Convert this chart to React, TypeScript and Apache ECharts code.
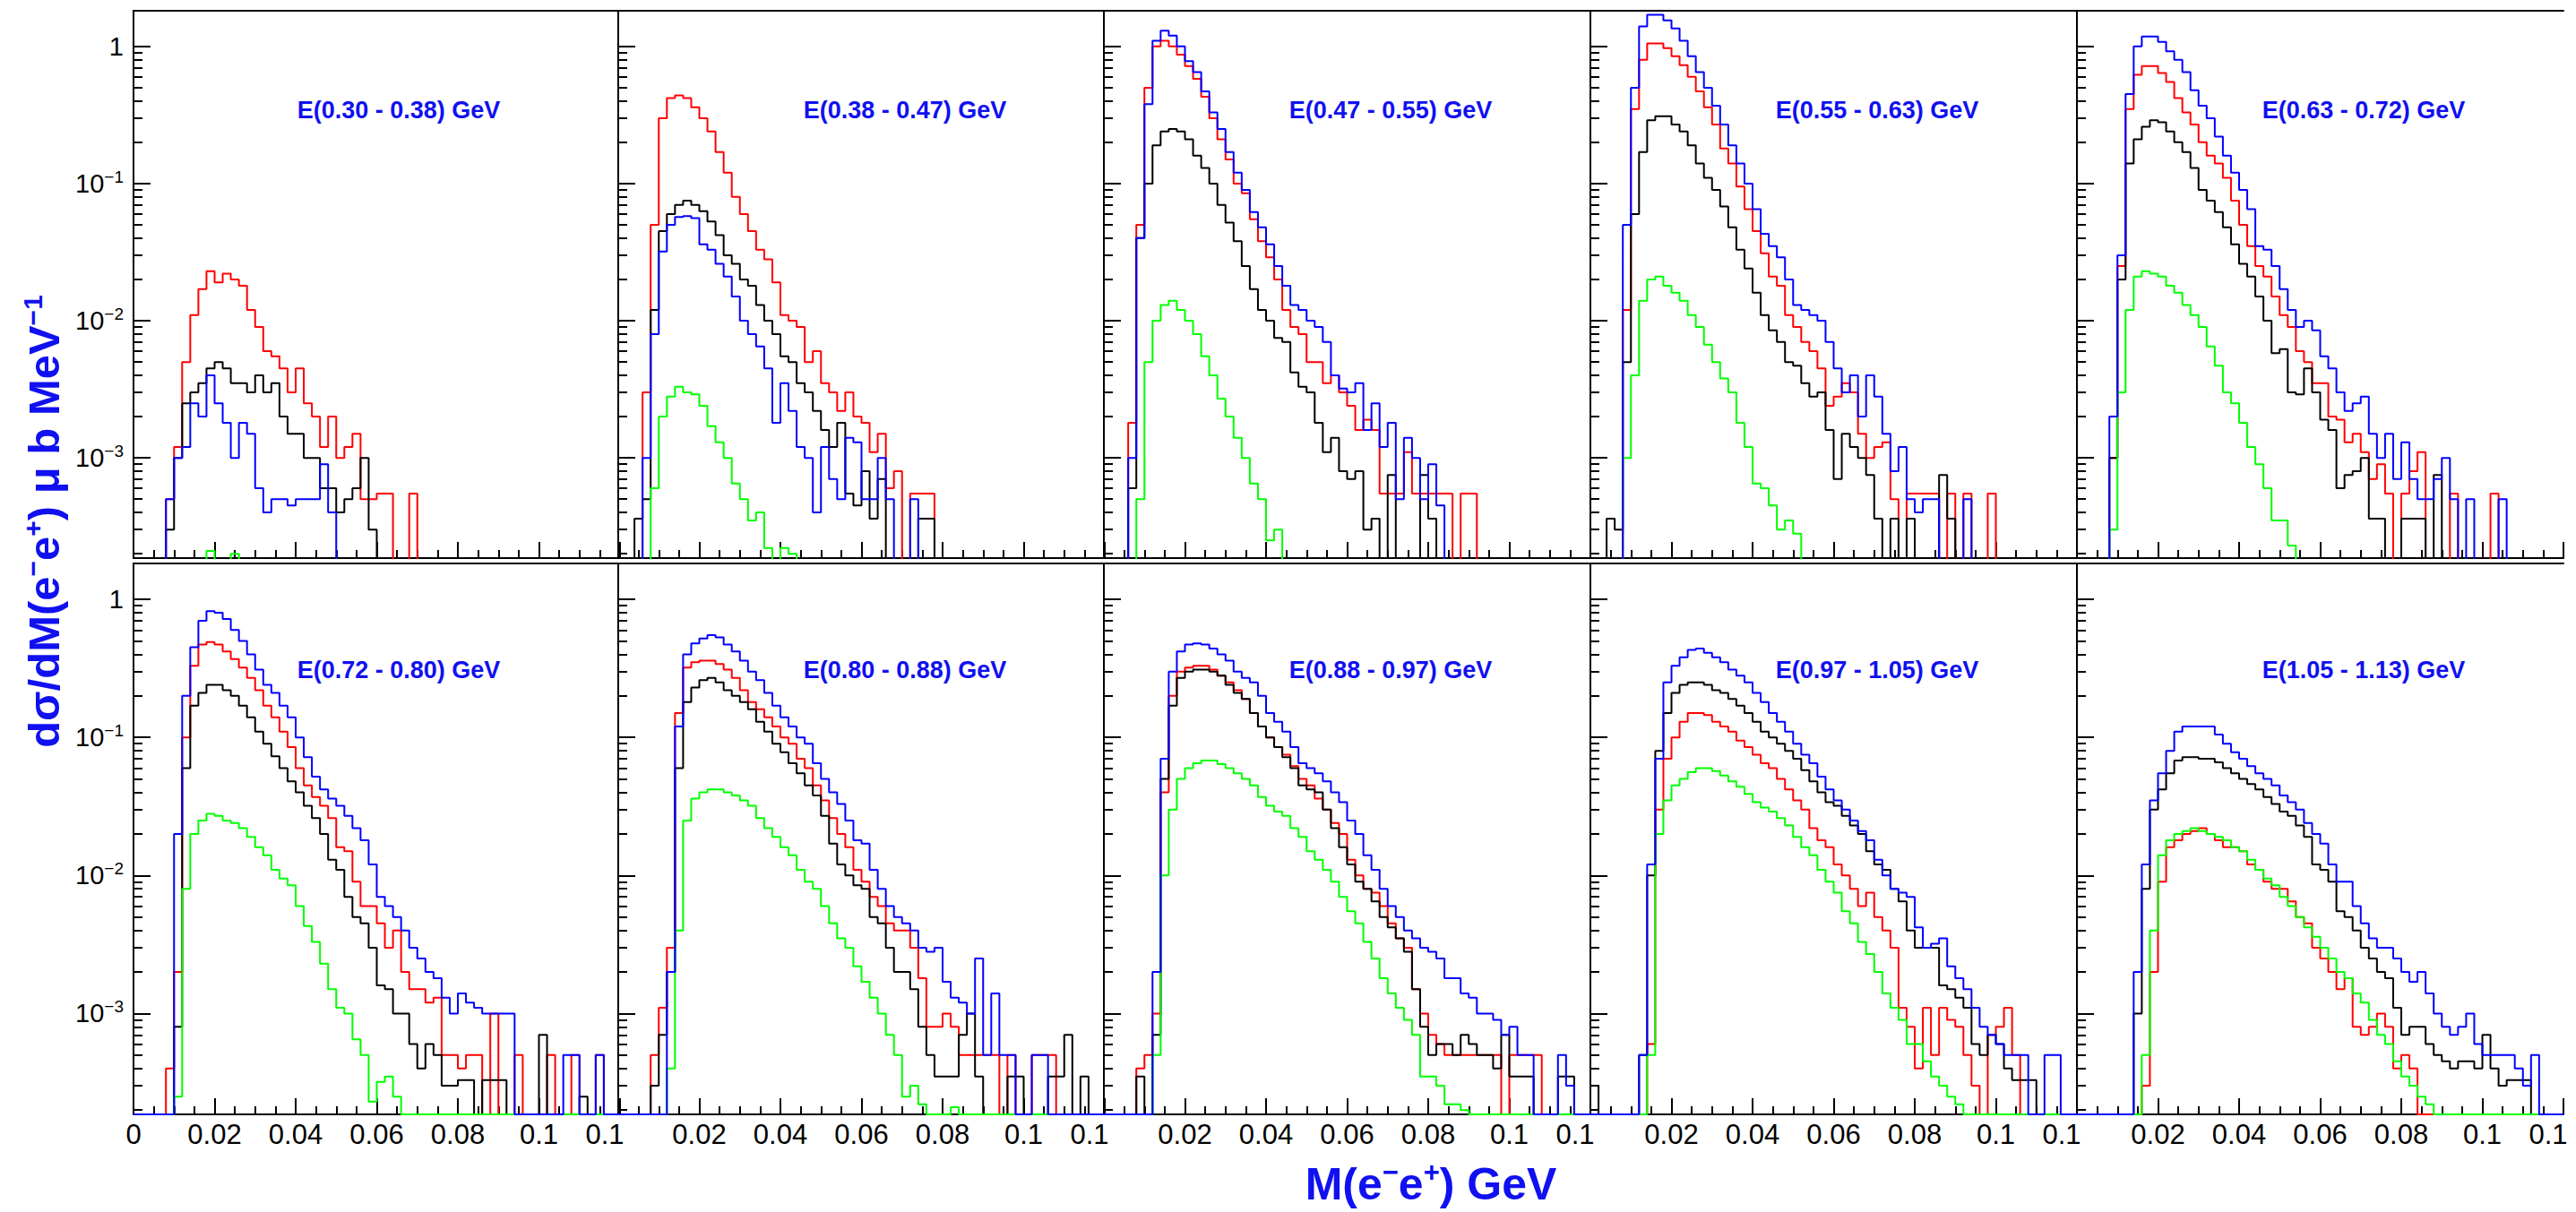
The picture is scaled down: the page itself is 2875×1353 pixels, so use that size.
import React, { useEffect, useRef } from "react";
import * as echarts from "echarts";

// ---------- axes / binning ----------
const BIN_WIDTH = 0.002; // GeV
const N_BINS = 60;
const X_MAX = 0.12;
const Y_MIN = 1.86e-4;
const Y_MAX = 1.82;
const MAJOR_Y = [1e-3, 1e-2, 1e-1, 1];
const X_TICK_INTERVAL = 0.02;

const PANEL_TITLES = [
  "E(0.30 - 0.38) GeV",
  "E(0.38 - 0.47) GeV",
  "E(0.47 - 0.55) GeV",
  "E(0.55 - 0.63) GeV",
  "E(0.63 - 0.72) GeV",
  "E(0.72 - 0.80) GeV",
  "E(0.80 - 0.88) GeV",
  "E(0.88 - 0.97) GeV",
  "E(0.97 - 1.05) GeV",
  "E(1.05 - 1.13) GeV",
];

// ---------- histogram contents (dσ/dM, μb/MeV), bins of 2 MeV from 0 ----------
const p1Red = [0,0,0,0,5e-4,1.2e-3,5e-3,0.011,0.017,0.023,0.019,0.022,0.02,0.018,0.012,0.009,0.006,0.0055,0.0045,0.003,0.0045,0.0025,0.002,0.0012,0.002,0.001,0.0012,0.0015,5e-4,5e-4,5.5e-4,5.5e-4,0,0,5.5e-4];
const p1Black = [0,0,0,0,3e-4,1e-3,2.5e-3,3e-3,3.5e-3,4.5e-3,5e-3,4.5e-3,3.5e-3,3.5e-3,3e-3,4e-3,3e-3,3.5e-3,2e-3,1.5e-3,1.5e-3,1e-3,1e-3,6e-4,6e-4,4e-4,5e-4,6e-4,1e-3,3e-4];
const p1Blue = [0,0,0,0,5e-4,1e-3,1.2e-3,2.5e-3,2e-3,4e-3,2.5e-3,1.8e-3,1e-3,1.8e-3,1.5e-3,6e-4,4e-4,5e-4,5e-4,4.5e-4,5e-4,5e-4,5e-4,9e-4,4e-4];
const p1Green = [0,0,0,0,0,0,0,0,0,2.1e-4,0,0,2e-4];

const p2Red = [0,0,0,3e-3,0.05,0.3,0.42,0.44,0.42,0.36,0.3,0.24,0.17,0.12,0.08,0.06,0.045,0.033,0.028,0.019,0.011,0.01,0.009,0.005,0.006,0.0035,0.003,0.0022,0.003,0.002,0.0018,0.0011,0.0015,6e-4,8e-4,0,5.5e-4,5.5e-4,5.5e-4];
const p2Black = [0,0,3.6e-4,5e-4,0.012,0.045,0.06,0.07,0.075,0.07,0.063,0.053,0.042,0.03,0.026,0.02,0.018,0.013,0.01,0.008,0.0055,0.005,0.0035,0.003,0.0022,0.0016,0.0012,0.0018,5.5e-4,4.5e-4,8e-4,3.6e-4,7e-4,0,0,0,0,3.6e-4,3.6e-4];
const p2Blue = [0,0,0,1e-3,0.008,0.032,0.05,0.057,0.058,0.056,0.036,0.033,0.026,0.021,0.015,0.01,0.008,0.0065,0.0045,0.0018,0.0035,0.0022,0.0012,1e-3,4e-4,1.2e-3,7e-4,5e-4,1.4e-3,1.3e-3,5e-4,5e-4,1e-3,5e-4,0,0,5e-4];
const p2Green = [0,0,0,0,6e-4,2e-3,2.8e-3,3.3e-3,3e-3,2.9e-3,2.4e-3,1.7e-3,1.3e-3,1e-3,6.5e-4,5e-4,3.5e-4,4e-4,2.2e-4,0,2.2e-4,2e-4];

const p3Red = [0,0,0,1.8e-3,0.05,0.5,1.0,1.1,1.0,0.87,0.72,0.58,0.43,0.3,0.21,0.15,0.1,0.085,0.055,0.038,0.029,0.02,0.012,0.009,0.008,0.005,0.005,0.0035,0.004,0.003,0.0024,0.0016,0.0019,0.0016,5.5e-4,5.5e-4,5.5e-4,1.1e-3,5.5e-4,5.5e-4,5.5e-4,5.5e-4,5.5e-4,0,5.5e-4,5.5e-4];
const p3Black = [0,0,0,6e-4,0.04,0.1,0.19,0.24,0.25,0.24,0.21,0.16,0.13,0.1,0.07,0.052,0.038,0.025,0.017,0.012,0.01,0.0075,0.007,0.0042,0.0033,0.003,0.0018,0.0011,0.0014,8e-4,7e-4,8e-4,3e-4,3.6e-4,0,7.5e-4,0,0,0,7.5e-4,3.6e-4];
const p3Blue = [0,0,0,1e-3,0.04,0.38,1.1,1.3,1.2,1.0,0.78,0.65,0.47,0.33,0.25,0.17,0.12,0.09,0.062,0.048,0.036,0.025,0.018,0.013,0.012,0.01,0.009,0.007,0.004,0.0032,0.003,0.0035,0.0016,0.0025,0.0012,0.0018,5e-4,1.4e-3,1e-3,5e-4,9e-4,4.5e-4];
const p3Green = [0,0,0,0,5e-4,5e-3,0.01,0.013,0.014,0.012,0.01,0.008,0.0055,0.004,0.0027,0.002,0.0014,0.001,6.5e-4,5e-4,2.5e-4,3e-4];

const p4Red = [0,0,0,0,0.012,0.35,0.8,1.05,1.05,0.97,0.85,0.73,0.6,0.47,0.36,0.27,0.18,0.14,0.095,0.065,0.045,0.031,0.021,0.018,0.011,0.009,0.007,0.006,0.0045,0.0024,0.0028,0.0035,0.003,0.0015,1e-3,1.2e-3,1.3e-3,5e-4,0,5.5e-4,5.5e-4,5.5e-4,5.5e-4,0,5.5e-4,0,5.5e-4,0,0,5.5e-4];
const p4Black = [0,0,3.6e-4,3e-4,5e-3,0.06,0.17,0.29,0.31,0.31,0.27,0.24,0.19,0.14,0.11,0.09,0.068,0.048,0.033,0.024,0.016,0.011,0.0085,0.007,0.005,0.0047,0.0035,0.0028,0.003,0.0016,7e-4,1.5e-3,1.2e-3,1e-3,7.5e-4,3.6e-4,0,3.6e-4,0,3.6e-4,0,0,0,7.5e-4,3.6e-4];
const p4Blue = [0,0,0,0,0.05,0.5,1.4,1.7,1.7,1.55,1.35,1.1,0.85,0.65,0.5,0.37,0.27,0.19,0.14,0.1,0.065,0.043,0.035,0.029,0.02,0.013,0.012,0.011,0.01,0.007,0.0045,0.003,0.004,0.002,0.004,0.0028,0.0015,8e-4,1.2e-3,5e-4,4e-4,5e-4,5e-4,0,0,0,5e-4];
const p4Green = [0,0,0,0,1e-3,4e-3,0.014,0.02,0.021,0.018,0.016,0.014,0.011,0.009,0.0067,0.005,0.0038,0.003,0.0018,0.0012,6.5e-4,6e-4,4.5e-4,3e-4,3.5e-4,2.8e-4];

const p5Red = [0,0,0,0,1e-3,0.025,0.35,0.62,0.72,0.72,0.64,0.55,0.42,0.33,0.27,0.2,0.16,0.14,0.11,0.075,0.05,0.035,0.025,0.021,0.015,0.011,0.009,0.006,0.005,0.0035,0.0035,0.002,0.0019,0.0013,0.0015,0.0011,7e-4,9e-4,5.5e-4,0,5.5e-4,8e-4,1.1e-3,0,0,0,5.5e-4,0,0,0,0,5.5e-4];
const p5Black = [0,0,0,0,1e-3,0.02,0.14,0.21,0.26,0.29,0.28,0.24,0.2,0.17,0.13,0.09,0.075,0.062,0.048,0.036,0.026,0.021,0.015,0.01,0.0058,0.0062,0.003,0.0029,0.0045,0.003,0.0019,0.0016,6e-4,7.5e-4,8e-4,1e-3,3.6e-4,3.6e-4,0,0,3.6e-4,3.6e-4,3.6e-4,0,7.5e-4];
const p5Blue = [0,0,0,0,2e-3,0.03,0.45,1.0,1.18,1.18,1.08,0.92,0.8,0.65,0.48,0.37,0.3,0.22,0.16,0.12,0.09,0.065,0.035,0.033,0.025,0.017,0.012,0.009,0.01,0.0085,0.0055,0.0045,0.003,0.0022,0.0025,0.0028,0.0015,1e-3,1.5e-3,7e-4,1.3e-3,7e-4,5e-4,5e-4,7e-4,1e-3,5e-4,0,5e-4,0,0,0,5e-4];
const p5Green = [0,0,0,0,3e-4,3e-3,0.012,0.021,0.023,0.022,0.021,0.018,0.016,0.013,0.011,0.009,0.0065,0.0047,0.003,0.0025,0.0018,0.0012,9e-4,6e-4,3.5e-4,3.5e-4,2.3e-4];

const p6Red = [0,0,0,0,4e-4,2e-3,0.1,0.33,0.47,0.49,0.47,0.42,0.37,0.32,0.27,0.22,0.17,0.14,0.11,0.085,0.06,0.045,0.037,0.032,0.026,0.016,0.015,0.009,0.006,0.006,0.0045,0.003,0.004,0.002,0.0015,0.0015,0.0012,0.0013,5e-4,5e-4,4e-4,5e-4,5e-4,0,1e-3,0,0,5e-4,0,0,0,5e-4,0,0,5e-4,0,0,5e-4];
const p6Black = [0,0,0,0,0,8e-4,0.06,0.17,0.21,0.24,0.24,0.22,0.2,0.17,0.14,0.11,0.09,0.073,0.06,0.048,0.04,0.032,0.026,0.02,0.013,0.011,0.007,0.005,0.0045,0.003,0.0016,0.0015,0.001,0.001,6e-4,4e-4,6e-4,5e-4,3e-4,3e-4,3.3e-4,3.3e-4,0,3.3e-4,3.3e-4,3.3e-4,0,0,0,0,7e-4,0,0,0,0,2.5e-4];
const p6Blue = [0,0,0,0,0,0.02,0.2,0.45,0.7,0.82,0.8,0.72,0.6,0.5,0.4,0.31,0.24,0.21,0.17,0.14,0.1,0.072,0.052,0.042,0.036,0.032,0.027,0.022,0.018,0.012,0.007,0.006,0.005,0.004,0.003,0.0025,0.002,0.0018,0.0013,1e-3,1.4e-3,1.2e-3,1.1e-3,1e-3,1e-3,1e-3,1e-3,0,0,0,0,0,0,5e-4,5e-4,0,0,5e-4];
const p6Green = [0,0,0,0,0,2.5e-4,0.008,0.02,0.025,0.028,0.027,0.025,0.024,0.022,0.019,0.016,0.014,0.011,0.0095,0.0085,0.006,0.0043,0.0033,0.0023,0.0015,0.0011,1e-3,6.5e-4,5e-4,2.3e-4,3.2e-4,3.5e-4,2.5e-4];

const p7Red = [0,0,0,0,5e-4,1.1e-3,3e-3,0.15,0.32,0.35,0.36,0.36,0.34,0.31,0.27,0.22,0.18,0.16,0.14,0.12,0.1,0.09,0.07,0.06,0.045,0.035,0.026,0.02,0.016,0.011,0.009,0.007,0.006,0.0045,0.004,0.004,0.003,0.0018,8e-4,8e-4,1e-3,8e-4,5e-4,5e-4,5e-4,5e-4,5e-4,0,5e-4,0,0,5e-4,5e-4,5e-4];
const p7Black = [0,0,0,0,3e-4,7e-4,2e-3,0.06,0.18,0.23,0.26,0.27,0.25,0.22,0.2,0.18,0.16,0.13,0.11,0.09,0.078,0.065,0.055,0.045,0.038,0.027,0.017,0.012,0.01,0.0085,0.008,0.005,0.0045,0.003,0.002,0.002,0.0015,8e-4,5e-4,3.5e-4,3.5e-4,3.5e-4,7e-4,1e-3,3.5e-4,0,0,0,3.5e-4,3.5e-4,0,0,0,3.5e-4,3.5e-4,7e-4,0,3.5e-4];
const p7Blue = [0,0,0,0,0,0,2e-3,0.12,0.4,0.48,0.52,0.55,0.53,0.47,0.42,0.36,0.3,0.26,0.21,0.17,0.14,0.12,0.1,0.09,0.065,0.05,0.04,0.033,0.025,0.018,0.017,0.011,0.008,0.006,0.005,0.0045,0.004,0.003,0.0028,0.003,0.0017,0.0013,0.0012,0.001,0.0025,5e-4,1.4e-3,5e-4,5e-4,0,0,5e-4,5e-4];
const p7Green = [0,0,0,0,0,0,4e-4,4e-3,0.025,0.036,0.04,0.042,0.042,0.04,0.038,0.035,0.032,0.026,0.022,0.019,0.016,0.014,0.011,0.009,0.008,0.006,0.0045,0.0035,0.003,0.0022,0.0017,0.0013,0.001,7e-4,5e-4,2.5e-4,3e-4,2.2e-4,0,0,0,2.1e-4];

const p8Red = [0,0,0,0,4e-4,5e-4,1e-3,0.04,0.2,0.3,0.32,0.33,0.33,0.31,0.28,0.25,0.22,0.19,0.15,0.12,0.1,0.085,0.075,0.062,0.05,0.045,0.036,0.03,0.024,0.02,0.013,0.01,0.008,0.0075,0.006,0.0045,0.0035,0.003,0.0015,0.001,7e-4,6e-4,5e-4,5e-4,5e-4,5e-4,5e-4,5e-4,5e-4,0,5e-4,5e-4,5e-4,5e-4];
const p8Black = [0,0,0,0,3.5e-4,0,7e-4,0.05,0.17,0.27,0.3,0.31,0.31,0.3,0.28,0.24,0.21,0.19,0.15,0.12,0.1,0.085,0.072,0.06,0.045,0.042,0.04,0.03,0.022,0.016,0.012,0.009,0.008,0.0065,0.005,0.0042,0.0035,0.0028,0.0015,8e-4,5e-4,6e-4,6e-4,5e-4,7e-4,6e-4,5e-4,5e-4,4e-4,7e-4,3.5e-4,3.5e-4,3.5e-4,0,0,0,3.5e-4,3.5e-4];
const p8Blue = [0,0,0,0,0,0,2e-3,0.07,0.3,0.42,0.47,0.48,0.47,0.44,0.4,0.36,0.3,0.27,0.25,0.2,0.15,0.13,0.11,0.085,0.065,0.06,0.055,0.048,0.04,0.034,0.025,0.02,0.014,0.011,0.008,0.006,0.005,0.004,0.0035,0.003,0.0028,0.0025,0.0018,0.0018,0.0014,0.0013,1e-3,1e-3,9e-4,7e-4,8e-4,5e-4,5e-4,0,0,0,5e-4,3e-4];
const p8Green = [0,0,0,0,0,0,5e-4,0.01,0.03,0.05,0.06,0.065,0.068,0.068,0.064,0.06,0.055,0.05,0.045,0.037,0.032,0.029,0.027,0.022,0.019,0.015,0.013,0.011,0.009,0.007,0.0055,0.0045,0.0033,0.0025,0.0018,0.0014,0.0011,9e-4,7e-4,3.5e-4,3.5e-4,3e-4,2.2e-4,2.2e-4,2e-4];

const p9Red = [0,0,0,0,0,0,0,6e-4,0.03,0.07,0.1,0.13,0.15,0.15,0.145,0.13,0.12,0.11,0.095,0.085,0.075,0.065,0.06,0.05,0.042,0.035,0.03,0.022,0.018,0.016,0.012,0.01,0.008,0.006,0.0075,0.005,0.004,0.003,0.0011,8e-4,4e-4,1.1e-3,5e-4,1.1e-3,9e-4,8e-4,5e-4,3e-4,0,7e-4,8e-4,1.1e-3,5e-4];
const p9Black = [3e-4,0,0,0,0,0,5e-4,0.01,0.08,0.15,0.21,0.24,0.25,0.25,0.24,0.22,0.21,0.19,0.17,0.15,0.13,0.11,0.1,0.09,0.08,0.07,0.058,0.048,0.04,0.034,0.032,0.027,0.023,0.02,0.015,0.012,0.011,0.008,0.0065,0.004,0.003,0.003,0.003,0.0016,0.0015,0.0013,0.0011,6e-4,5e-4,7e-4,6e-4,4e-4,3.3e-4,3.3e-4,3.3e-4];
const p9Blue = [0,0,0,0,0,0,5e-4,0.012,0.07,0.25,0.33,0.38,0.43,0.44,0.41,0.38,0.35,0.31,0.28,0.25,0.21,0.18,0.15,0.13,0.11,0.09,0.075,0.065,0.052,0.042,0.035,0.03,0.025,0.021,0.018,0.013,0.01,0.008,0.0075,0.007,0.0042,0.003,0.0032,0.0035,0.0022,0.0018,0.0015,0.0011,8e-4,7e-4,6e-4,5e-4,5e-4,5e-4,0,0,5e-4,5e-4];
const p9Green = [0,0,0,0,0,0,0,5e-4,0.02,0.035,0.045,0.05,0.056,0.06,0.06,0.057,0.053,0.048,0.044,0.039,0.034,0.031,0.029,0.026,0.023,0.019,0.016,0.014,0.011,0.009,0.0075,0.0055,0.0045,0.0033,0.0027,0.002,0.0014,0.0011,9e-4,6e-4,6e-4,4.5e-4,3.5e-4,3e-4,2.5e-4,2.2e-4];

const p10Red = [0,0,0,0,0,0,0,0,3e-4,2e-3,0.009,0.016,0.018,0.02,0.021,0.022,0.02,0.018,0.016,0.016,0.015,0.012,0.011,0.009,0.008,0.008,0.0065,0.005,0.0045,0.003,0.0025,0.002,0.0015,0.0018,8e-4,7e-4,8e-4,1e-3,8e-4,4e-4,5e-4,4e-4];
const p10Black = [0,0,0,0,0,0,0,1e-3,0.008,0.03,0.042,0.055,0.068,0.072,0.072,0.07,0.07,0.066,0.06,0.055,0.05,0.046,0.042,0.037,0.033,0.029,0.027,0.023,0.019,0.012,0.011,0.009,0.0055,0.005,0.004,0.003,0.0025,0.002,0.0018,0.0011,7e-4,8e-4,8e-4,6e-4,5e-4,4.5e-4,4e-4,4.5e-4,4.5e-4,4e-4,7e-4,4e-4,3e-4,3.3e-4,3.3e-4,3.3e-4];
const p10Blue = [0,0,0,0,0,0,0,2e-3,0.012,0.035,0.055,0.08,0.11,0.12,0.12,0.12,0.12,0.105,0.09,0.078,0.07,0.062,0.055,0.05,0.045,0.038,0.034,0.03,0.024,0.02,0.017,0.012,0.009,0.009,0.006,0.0045,0.0035,0.003,0.003,0.0025,0.002,0.0017,0.002,0.0014,0.001,8e-4,7e-4,8e-4,1e-3,6e-4,5e-4,5e-4,5e-4,5e-4,4e-4,3e-4,5e-4];
const p10Green = [0,0,0,0,0,0,0,0,5e-4,0.004,0.014,0.018,0.02,0.021,0.022,0.021,0.02,0.019,0.018,0.016,0.015,0.013,0.011,0.0095,0.0085,0.007,0.006,0.005,0.0042,0.0036,0.003,0.0025,0.002,0.0018,0.0014,0.0012,9e-4,7e-4,6e-4,4.5e-4,3.5e-4,3e-4,2.5e-4,2.2e-4];

const PANELS = [
  { red: p1Red, black: p1Black, green: p1Green, blue: p1Blue },
  { red: p2Red, black: p2Black, green: p2Green, blue: p2Blue },
  { red: p3Red, black: p3Black, green: p3Green, blue: p3Blue },
  { red: p4Red, black: p4Black, green: p4Green, blue: p4Blue },
  { red: p5Red, black: p5Black, green: p5Green, blue: p5Blue },
  { red: p6Red, black: p6Black, green: p6Green, blue: p6Blue },
  { red: p7Red, black: p7Black, green: p7Green, blue: p7Blue },
  { red: p8Red, black: p8Black, green: p8Green, blue: p8Blue },
  { red: p9Red, black: p9Black, green: p9Green, blue: p9Blue },
  { red: p10Red, black: p10Black, green: p10Green, blue: p10Blue },
];

// ---------- layout & style ----------
const COL_LEFT = [149, 690, 1232, 1775, 2318];
const PANEL_W = 543;
const ROWS = [
  { top: 12, height: 611 },
  { top: 629, height: 615 },
];
const TITLE_X = [445, 1010, 1552, 2095, 2638];
const TITLE_Y = [123, 748];
const COLORS: Record<string, string> = { red: "#ff0000", black: "#000000", green: "#00ff00", blue: "#0000ff" };
const SERIES_ORDER = ["red", "black", "green", "blue"];
const FONT = "'Liberation Sans', Arial, Helvetica, sans-serif";
const TITLE_BLUE = "#1010f0";

function minorYTicks(): number[] {
  const out: number[] = [];
  for (let e = -4; e <= 0; e++) {
    for (let k = 2; k <= 9; k++) {
      const v = k * Math.pow(10, e);
      if (v > Y_MIN && v < Y_MAX) out.push(v);
    }
  }
  return out;
}

function toSteps(vals: number[], floor: number): [number, number][] {
  const pts: [number, number][] = [];
  let last = floor;
  for (let i = 0; i < N_BINS; i++) {
    const v = vals[i] ?? 0;
    last = v > 0 ? v : floor;
    pts.push([+(i * BIN_WIDTH).toFixed(4), last]);
  }
  pts.push([X_MAX, last]);
  return pts;
}

function buildOption() {
  const grid: any[] = [];
  const xAxis: any[] = [];
  const yAxis: any[] = [];
  const series: any[] = [];
  const graphic: any[] = [];
  const MINOR = minorYTicks();
  const axisLineStyle = { color: "#000", width: 2 };

  PANELS.forEach((p, idx) => {
    const row = Math.floor(idx / 5);
    const col = idx % 5;
    grid.push({ left: COL_LEFT[col], top: ROWS[row].top, width: PANEL_W, height: ROWS[row].height, containLabel: false });
    const xi = xAxis.length;
    xAxis.push({
      gridIndex: idx,
      type: "value",
      position: "bottom",
      min: 0,
      max: X_MAX,
      interval: X_TICK_INTERVAL,
      axisLine: { show: true, onZero: false, lineStyle: axisLineStyle },
      axisTick: { show: true, inside: true, length: 18, lineStyle: { color: "#000", width: 2 } },
      minorTick: { show: true, splitNumber: 4, length: 9, lineStyle: { color: "#000", width: 2 } },
      splitLine: { show: false },
      minorSplitLine: { show: false },
      axisLabel: {
        show: row === 1,
        showMinLabel: true,
        showMaxLabel: true,
        margin: 7,
        color: "#000",
        fontSize: 31,
        fontFamily: FONT,
        formatter: (v: number) => {
          if (Math.abs(v) < 1e-9) return col === 0 ? "0" : "";
          if (Math.abs(v - X_MAX) < 1e-9) return "{e|0.1}";
          return String(Math.round(v * 100) / 100);
        },
        rich: { e: { fontSize: 31, fontFamily: FONT, color: "#000", padding: [0, 34, 0, 0] } },
      },
    });
    xAxis.push({
      gridIndex: idx,
      type: "value",
      position: "top",
      min: 0,
      max: X_MAX,
      axisLine: { show: true, onZero: false, lineStyle: axisLineStyle },
      axisTick: { show: false },
      axisLabel: { show: false },
      splitLine: { show: false },
    });
    const yi = yAxis.length;
    yAxis.push({
      gridIndex: idx,
      type: "log",
      logBase: 10,
      position: "left",
      min: Y_MIN,
      max: Y_MAX,
      axisLine: { show: true, onZero: false, lineStyle: axisLineStyle },
      axisTick: { show: true, inside: true, length: 19, customValues: MAJOR_Y, lineStyle: { color: "#000", width: 2 } },
      axisLabel: {
        show: col === 0,
        customValues: MAJOR_Y,
        margin: 11,
        formatter: (v: number) => {
          const e = Math.round(Math.log10(v));
          return e === 0 ? "{n|1}" : `{n|10}{s|\u2212${-e}}`;
        },
        rich: {
          n: { fontSize: 29, fontFamily: FONT, color: "#000", lineHeight: 34 },
          s: { fontSize: 19, fontFamily: FONT, color: "#000", lineHeight: 19, verticalAlign: "top" },
        },
      },
      splitLine: { show: false },
      minorTick: { show: false },
    });
    yAxis.push({
      gridIndex: idx,
      type: "log",
      logBase: 10,
      position: "left",
      min: Y_MIN,
      max: Y_MAX,
      axisLine: { show: false, onZero: false },
      axisTick: { show: true, inside: true, length: 10, customValues: MINOR, lineStyle: { color: "#000", width: 2 } },
      axisLabel: { show: false },
      splitLine: { show: false },
    });

    const floor = row === 0 ? 1e-7 : Y_MIN;
    SERIES_ORDER.forEach((key) => {
      series.push({
        type: "line",
        name: `${PANEL_TITLES[idx]} ${key}`,
        xAxisIndex: xi,
        yAxisIndex: yi,
        step: "end",
        symbol: "none",
        showSymbol: false,
        clip: true,
        silent: true,
        lineStyle: { color: COLORS[key], width: 2 },
        itemStyle: { color: COLORS[key] },
        data: toSteps((p as any)[key], floor),
      });
    });

    graphic.push({
      type: "text",
      x: TITLE_X[col],
      y: TITLE_Y[row],
      silent: true,
      style: {
        text: PANEL_TITLES[idx],
        fill: TITLE_BLUE,
        font: `bold 27px ${FONT}`,
        align: "center",
        verticalAlign: "middle",
      },
    });
  });

  // y-axis title
  graphic.push({
    type: "text",
    x: 49,
    y: 582,
    rotation: Math.PI / 2,
    silent: true,
    style: {
      text: "{a|d\u03c3/dM(e}{s|\u2212}{a|e}{s|+}{a|) \u03bc b MeV}{s|\u22121}",
      align: "center",
      verticalAlign: "middle",
      rich: {
        a: { fontSize: 49, fontWeight: "bold", fontFamily: FONT, fill: TITLE_BLUE, lineHeight: 56 },
        s: { fontSize: 30, fontWeight: "bold", fontFamily: FONT, fill: TITLE_BLUE, lineHeight: 29, verticalAlign: "top" },
      },
    },
  });
  // x-axis title
  graphic.push({
    type: "text",
    x: 1597,
    y: 1322,
    silent: true,
    style: {
      text: "{a|M(e}{s|\u2212}{a|e}{s|+}{a|) GeV}",
      align: "center",
      verticalAlign: "middle",
      rich: {
        a: { fontSize: 50, fontWeight: "bold", fontFamily: FONT, fill: TITLE_BLUE, lineHeight: 58 },
        s: { fontSize: 31, fontWeight: "bold", fontFamily: FONT, fill: TITLE_BLUE, lineHeight: 29, verticalAlign: "top" },
      },
    },
  });

  return {
    animation: false,
    backgroundColor: "#ffffff",
    grid,
    xAxis,
    yAxis,
    series,
    graphic,
  };
}

export default function App() {
  const ref = useRef<HTMLDivElement>(null);
  useEffect(() => {
    document.body.style.margin = "0";
    if (!ref.current) return;
    const chart = echarts.init(ref.current, undefined, { renderer: "svg" });
    chart.setOption(buildOption() as any);
    return () => chart.dispose();
  }, []);
  return <div ref={ref} style={{ width: 2875, height: 1353, background: "#fff" }} />;
}
